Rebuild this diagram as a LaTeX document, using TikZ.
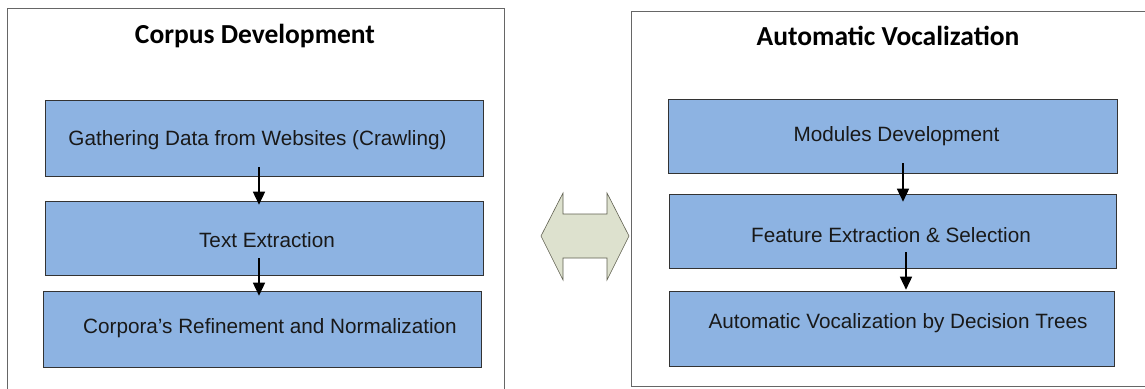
\documentclass[tikz,border=0pt]{standalone}
\usepackage{fontspec}
\setmainfont{Liberation Sans}
\newfontfamily\titlefont{Carlito}
\usetikzlibrary{arrows.meta,shadows}
\definecolor{stepblue}{RGB}{141,179,226}
\definecolor{linkfill}{RGB}{221,225,206}
\definecolor{linkdraw}{RGB}{95,95,80}
\tikzset{
  panel/.style={draw=black!60, line width=0.9pt},
  paneltitle/.style={font=\titlefont\bfseries\fontsize{27.5}{30}\selectfont, inner sep=0pt},
  stepbox/.style={draw=black!80, line width=0.6pt, fill=stepblue,
    minimum width=438pt, inner sep=0pt,
    drop shadow={shadow xshift=1.3pt, shadow yshift=-1.3pt, fill=black!65, opacity=1}},
  steptext/.style={font=\fontsize{20.7}{24}\selectfont, inner sep=0pt, text=black!90},
  flow/.style={-{Triangle[width=12pt,length=13pt]}, line width=1.5pt},
  link/.style={fill=linkfill, draw=linkdraw, line width=0.6pt, line join=miter}
}
\begin{document}
\begin{tikzpicture}[x=1pt, y=-1pt]
\useasboundingbox (0,0) rectangle (1145,388);
\begin{scope}
\clip (0,0) rectangle (1145,388);
% the two panels, cut by the page edge
\draw[panel] (7,395) -- (7,8) -- (504,8) -- (504,395);
\draw[panel] (1150,11) -- (631,11) -- (631,386) -- (1150,386);
\end{scope}

% left panel: corpus development
\node[paneltitle] (ltitle) at (255,36) {Corpus Development};
\node[stepbox, minimum height=76pt] (gather) at (264,138) {};
\node[stepbox, minimum height=74pt] (textx) at (264,238) {};
\node[stepbox, minimum height=76pt] (refine) at (262,329) {};
\node[steptext] (gathert) at (257.5,140) {Gathering Data from Websites (Crawling)};
\node[steptext] (textxt) at (267,240) {Text Extraction};
\node[steptext] (refinet) at (270,328) {Corpora’s Refinement and Normalization};
\draw[flow] ([xshift=-5pt,yshift=9pt]gather.south) -- ([xshift=-5pt,yshift=-4pt]textx.north);
\draw[flow] ([xshift=-5pt,yshift=17pt]textx.south) -- ([xshift=-3pt,yshift=-5pt]refine.north);

% right panel: automatic vocalization
\node[paneltitle] (rtitle) at (888,36) {Automatic Vocalization};
\node[stepbox, minimum width=449pt, minimum height=74pt] (modules) at (892.5,136) {};
\node[stepbox, minimum width=447pt, minimum height=74pt] (feature) at (892.5,231) {};
\node[stepbox, minimum width=445pt, minimum height=75pt] (decide) at (891.5,328.5) {};
\node[steptext] (modulest) at (896.5,136) {Modules Development};
\node[steptext] (featuret) at (891,235) {Feature Extraction \& Selection};
\node[steptext] (decidet) at (898,323) {Automatic Vocalization by Decision Trees};
\draw[flow] ([xshift=10.5pt,yshift=10pt]modules.south) -- ([xshift=10.5pt,yshift=-8pt]feature.north);
\draw[flow] ([xshift=13.5pt,yshift=16pt]feature.south) -- ([xshift=14.5pt,yshift=1pt]decide.north);

% two-way link between the panels
\draw[link] (541,236) -- (563,193) -- (563,214) -- (607,214) -- (607,193)
  -- (629,236) -- (607,280) -- (607,258) -- (563,258) -- (563,280) -- cycle;
\end{tikzpicture}
\end{document}
